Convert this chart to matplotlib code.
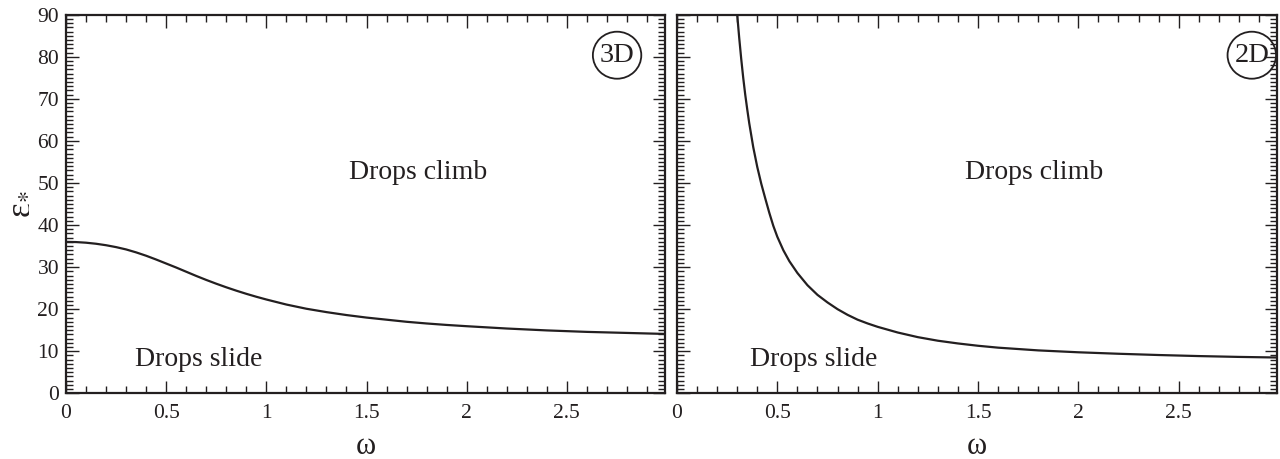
import matplotlib
matplotlib.use("Agg")
import matplotlib.pyplot as plt
from matplotlib.ticker import MultipleLocator, FixedLocator
from matplotlib.patches import Ellipse

# ---- data ----
omega_3d = [0.0, 0.05, 0.1, 0.15, 0.2, 0.25, 0.3, 0.35, 0.4, 0.45, 0.5, 0.55,
            0.6, 0.65, 0.7, 0.75, 0.8, 0.85, 0.9, 0.95, 1.0, 1.1, 1.2, 1.3,
            1.4, 1.5, 1.6, 1.7, 1.8, 1.9, 2.0, 2.2, 2.4, 2.6, 2.8, 3.0]
eps_3d = [36.0, 35.95, 35.8, 35.55, 35.2, 34.75, 34.2, 33.5, 32.7, 31.8,
          30.85, 29.9, 28.9, 27.9, 26.95, 26.05, 25.2, 24.4, 23.65, 22.95,
          22.3, 21.1, 20.1, 19.3, 18.6, 18.0, 17.5, 17.0, 16.6, 16.25,
          15.95, 15.4, 14.95, 14.6, 14.35, 14.1]

omega_2d = [0.30, 0.31, 0.32, 0.33, 0.34, 0.35, 0.36, 0.38, 0.40, 0.42, 0.44,
            0.46, 0.48, 0.50, 0.53, 0.56, 0.60, 0.65, 0.70, 0.75, 0.80, 0.85,
            0.90, 0.95, 1.00, 1.10, 1.20, 1.30, 1.40, 1.50, 1.60, 1.80, 2.00,
            2.20, 2.40, 2.60, 2.80, 3.00]
eps_2d = [90.0, 84.5, 79.5, 75.0, 71.0, 67.5, 64.2, 58.5, 53.8, 49.8, 46.3,
          42.9, 39.8, 37.2, 34.0, 31.4, 28.6, 25.7, 23.4, 21.6, 20.0, 18.65,
          17.5, 16.6, 15.8, 14.45, 13.35, 12.5, 11.85, 11.3, 10.85, 10.2,
          9.75, 9.4, 9.1, 8.85, 8.65, 8.5]

x_ticks = [0, 0.5, 1, 1.5, 2, 2.5]
x_ticklabels = ["0", "0.5", "1", "1.5", "2", "2.5"]
y_ticks = [0, 10, 20, 30, 40, 50, 60, 70, 80, 90]
y_ticklabels = ["0", "10", "20", "30", "40", "50", "60", "70", "80", "90"]
panel_tags = ["3D", "2D"]
region_climb = "Drops climb"
region_slide = "Drops slide"

# ---- style ----
plt.rcParams["font.family"] = ["Liberation Serif", "DejaVu Serif"]
plt.rcParams["mathtext.fontset"] = "stix"
ink = "#231f20"

W, H = 1280, 459
fig = plt.figure(figsize=(W / 100, H / 100), dpi=100)
bottom = (H - 393.3) / H
height = (393.3 - 14.7) / H
ax1 = fig.add_axes([66 / W, bottom, 599 / W, height])
ax2 = fig.add_axes([677 / W, bottom, 600 / W, height])

tag_x = [0.92, 0.958]

for ax, om, ep, tag, tx in [(ax1, omega_3d, eps_3d, panel_tags[0], tag_x[0]),
                            (ax2, omega_2d, eps_2d, panel_tags[1], tag_x[1])]:
    ax.plot(om, ep, color=ink, lw=1.6, solid_capstyle="butt",
            solid_joinstyle="round")
    ax.set_xlim(0, 2.99)
    ax.set_ylim(0, 90)
    ax.xaxis.set_major_locator(FixedLocator(x_ticks))
    ax.set_xticklabels(x_ticklabels)
    ax.xaxis.set_minor_locator(MultipleLocator(0.1))
    ax.yaxis.set_major_locator(FixedLocator(y_ticks))
    ax.yaxis.set_minor_locator(MultipleLocator(1))
    ax.tick_params(which="both", direction="in", top=True, right=True,
                   color=ink, labelcolor=ink, labelsize=15.5)
    ax.tick_params(which="major", length=9, width=1.0)
    ax.tick_params(which="minor", length=4.7, width=1.0)
    ax.tick_params(axis="x", pad=8)
    ax.tick_params(axis="y", pad=5)
    for s in ax.spines.values():
        s.set_color(ink)
        s.set_linewidth(1.6)
    ax.set_xlabel("ω", fontsize=22, color=ink, labelpad=6)
    # circled tag
    ax.text(tx, 0.893, tag, transform=ax.transAxes, ha="center",
            va="center", fontsize=20.5, color=ink)
    ax.add_patch(Ellipse((tx, 0.893), 48.5 / 600, 47 / 378.6,
                         transform=ax.transAxes, fill=False, ec=ink, lw=1.3))

ax1.set_yticklabels(y_ticklabels)
ax2.set_yticklabels([])
ax1.set_ylabel("ε$_{*}$", fontsize=25, color=ink, labelpad=2)

ax1.text(1.76, 52.5, region_climb, ha="center", va="center", fontsize=20, color=ink)
ax1.text(0.66, 8, region_slide, ha="center", va="center", fontsize=20, color=ink)
ax2.text(1.78, 52.5, region_climb, ha="center", va="center", fontsize=20, color=ink)
ax2.text(0.68, 8, region_slide, ha="center", va="center", fontsize=20, color=ink)

fig.savefig("out.png", dpi=100)
